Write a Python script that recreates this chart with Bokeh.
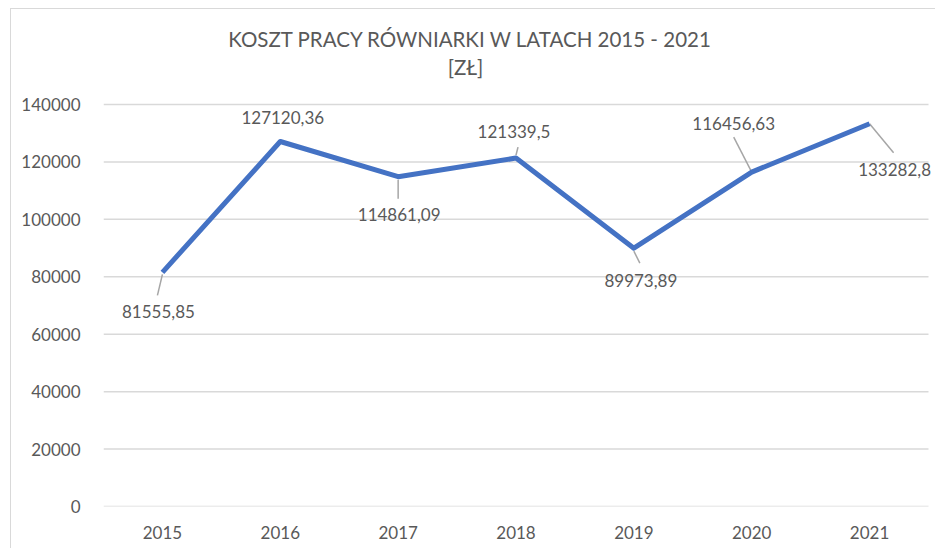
from bokeh.plotting import figure
from bokeh.models import (ColumnDataSource, LabelSet, Label, FixedTicker, Range1d,
                          CustomJSTickFormatter)
from bokeh.core.properties import value
from bokeh.embed import file_html
from bokeh.resources import INLINE

# ---- data ----
years = [2015, 2016, 2017, 2018, 2019, 2020, 2021]
values = [81555.85, 127120.36, 114861.09, 121339.5, 89973.89, 116456.63, 133282.8]
value_labels = ["81555,85", "127120,36", "114861,09", "121339,5", "89973,89", "116456,63", "133282,8"]
y_ticks = [0, 20000, 40000, 60000, 80000, 100000, 120000, 140000]
title_line1 = "KOSZT PRACY RÓWNIARKI W LATACH 2015 - 2021"
title_line2 = "[ZŁ]"

# ---- styling / layout ----
TXT = "#595959"
GRID = "#d9d9d9"
BLUE = "#4472c4"
FONT = "Lato"

W, H = 925, 540
BL, BR, BT, BB = 92, 0, 0, 43
PLOT_W = 825          # width of the category area in px
PLOT_TOP = 95         # px from canvas top to the 140000 line
RIGHT_PAD = 8         # px right of the plot area
frame_h = H - BT - BB
x_lo, x_end = years[0] - 0.5, years[-1] + 0.5
y_lo, y_top = 0, y_ticks[-1]
px_per_x = PLOT_W / (x_end - x_lo)
px_per_y = (frame_h - PLOT_TOP) / (y_top - y_lo)
x_hi = x_end + RIGHT_PAD / px_per_x
y_hi = y_top + PLOT_TOP / px_per_y

# label offsets (pixels, screen: +dy = down)
lab_dx = [-4, 2.5, 1, -2, 7, -18, 25]
lab_dy = [39, -24, 38, -27, 32, -49, 46]
# leader line start/end offsets (pixels)
lead_x0 = [0, 0, 0, 0, 0, 0, 0]
lead_y0 = [2, 0, 3, -3, 3, 0, 0]
lead_x1 = [-5, 0, 0, 2, 6, -18, 24]
lead_y1 = [23, 0, 22, -11, 15, -35, 29]

p = figure(width=W, height=H, output_backend="svg", toolbar_location=None,
           x_range=Range1d(x_lo, x_hi), y_range=Range1d(y_lo, y_hi),
           min_border_left=BL, min_border_right=BR, min_border_top=BT, min_border_bottom=BB,
           background_fill_color="white", border_fill_color="white")
p.outline_line_color = None
p.styles = {"margin-left": "10px", "margin-top": "8px",
            "border-left": "1px solid #d9d9d9", "border-top": "1px solid #d9d9d9"}

# axes
p.xaxis.ticker = FixedTicker(ticks=years)
p.yaxis.ticker = FixedTicker(ticks=y_ticks)
p.xaxis.formatter = CustomJSTickFormatter(code="return String(tick);")
p.yaxis.formatter = CustomJSTickFormatter(code="return String(tick);")
for ax in (p.xaxis[0], p.yaxis[0]):
    ax.major_tick_line_color = None
    ax.minor_tick_line_color = None
    ax.axis_line_color = None
    ax.major_label_text_font = FONT
    ax.major_label_text_font_size = "17px"
    ax.major_label_text_color = TXT
p.xaxis.major_label_standoff = 13
p.yaxis.major_label_standoff = 17
p.xgrid.grid_line_color = None
p.ygrid.grid_line_color = None

# horizontal gridlines over the category area only
p.segment(x0=[x_lo] * len(y_ticks), y0=y_ticks, x1=[x_end] * len(y_ticks), y1=y_ticks,
          line_color=GRID, line_width=1.5)

# leader lines
lx0 = [y + dx / px_per_x for y, dx in zip(years, lead_x0)]
ly0 = [v - dy / px_per_y for v, dy in zip(values, lead_y0)]
lx1 = [y + dx / px_per_x for y, dx in zip(years, lead_x1)]
ly1 = [v - dy / px_per_y for v, dy in zip(values, lead_y1)]
p.segment(x0=lx0, y0=ly0, x1=lx1, y1=ly1, line_color="#a6a6a6", line_width=1.5)

# main line
src = ColumnDataSource(dict(x=years, y=values, t=value_labels,
                            dx=lab_dx, dy=[-d for d in lab_dy]))
p.line("x", "y", source=src, line_color=BLUE, line_width=5, line_join="round")

labels = LabelSet(x="x", y="y", text="t", source=src, x_offset="dx", y_offset="dy",
                  text_align="center", text_baseline="middle",
                  text_font=value(FONT), text_font_size=value("17px"), text_color=TXT)
p.add_layout(labels)

# title (screen units: x from frame left, y up from frame bottom)
p.add_layout(Label(x=367, y=468, x_units="screen", y_units="screen", text=title_line1,
                   text_align="center", text_baseline="middle", text_font=FONT,
                   text_font_size="20.5px", text_color=TXT))
p.add_layout(Label(x=362, y=440, x_units="screen", y_units="screen", text=title_line2,
                   text_align="center", text_baseline="middle", text_font=FONT,
                   text_font_size="20.5px", text_color=TXT))

open("out.html", "w").write(file_html(p, INLINE))
